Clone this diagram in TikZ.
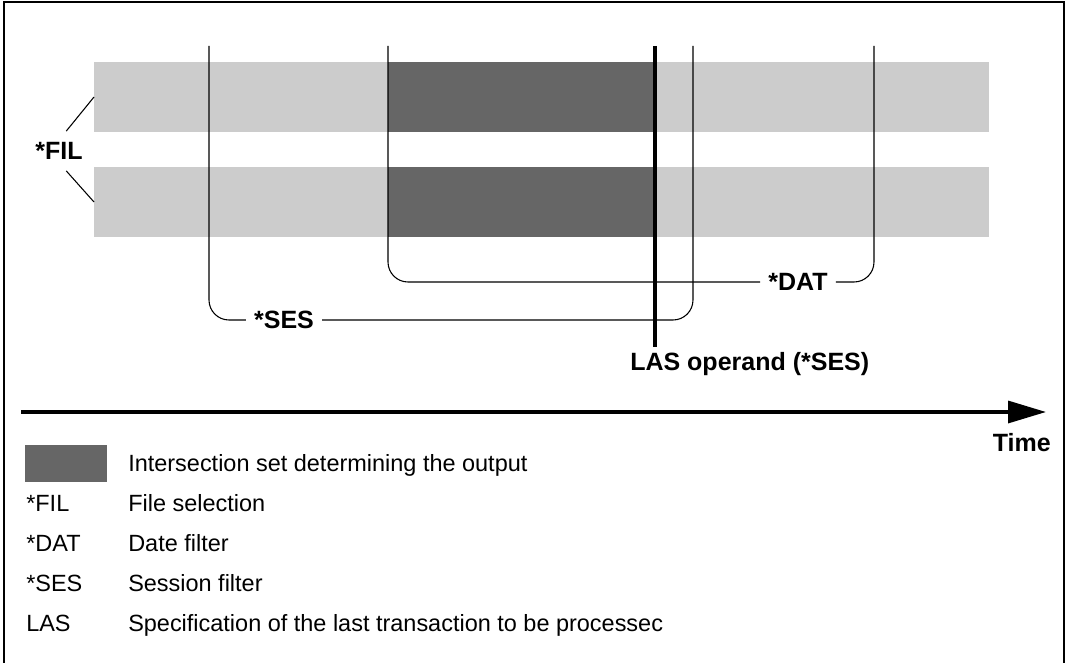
\documentclass[tikz,border=0pt]{standalone}
\usepackage{fontspec}
\setmainfont{Liberation Sans}
\usetikzlibrary{positioning, arrows.meta}
\definecolor{barlight}{HTML}{CCCCCC}
\definecolor{bardark}{HTML}{666666}

\begin{document}
\begin{tikzpicture}[x=0.75pt,y=-0.75pt]
        \tikzstyle{frame}=[draw, line width=1.2pt]
        \tikzstyle{barlt}=[rectangle, fill=barlight, inner sep=0pt, outer sep=0pt, minimum width=671.25pt, minimum height=52.5pt]
        \tikzstyle{bardk}=[rectangle, fill=bardark, inner sep=0pt, outer sep=0pt, minimum width=200.25pt, minimum height=52.5pt]
        \tikzstyle{keybox}=[rectangle, fill=bardark, inner sep=0pt, minimum width=61.5pt, minimum height=27.75pt]
        \tikzstyle{fline}=[draw, line width=0.8pt, rounded corners=15pt]
        \tikzstyle{blabel}=[font=\bfseries\fontsize{18.75}{22}\selectfont, text height=13.4pt, text depth=0pt, inner xsep=6pt]
        \tikzstyle{ltext}=[font=\fontsize{17.6}{21}\selectfont, anchor=base west, inner sep=0pt]
        \useasboundingbox (0,0) rectangle (1067,663);
        \draw[frame] (4,663) |- (1064,2) -- (1064,663);
        % file bars and the intersection
        \node[barlt]  (fil1) at (541.5,97)  {};
        \node[barlt]  (fil2) at (541.5,202) {};
        \node[bardk]  (out1) at (521.5,97)  {};
        \node[bardk]  (out2) at (521.5,202) {};
        \coordinate (ses0) at (209,46);
        \coordinate (ses1) at (693,46);
        \coordinate (dat0) at (388,46);
        \coordinate (dat1) at (874,46);
        \coordinate (las0) at (655,46);
        \node[blabel, inner ysep=8pt] (FIL) at (59,151) {*FIL};
        \node[blabel] (SES) at (284,320) {*SES};
        \node[blabel] (DAT) at (798,282) {*DAT};
        \node[blabel, anchor=base west, inner xsep=0pt, inner ysep=3.75pt] (LAS) at (630,370) {LAS operand (*SES)};
        \draw[line width=0.8pt] (FIL.70) -- (fil1.west);
        \draw[line width=0.8pt] (FIL.-70) -- (fil2.west);
        \draw[fline] (ses0) |- (SES);
        \draw[fline] (SES) -| (ses1);
        \draw[fline] (dat0) |- (DAT);
        \draw[fline] (DAT) -| (dat1);
        \draw[line width=2.5pt] (las0) -- (las0 |- LAS.north);
        % time axis
        \coordinate (t0) at (21,412);
        \coordinate (t1) at (1046,412);
        \draw[line width=2.5pt, -{Triangle[length=28.5pt,width=16.5pt]}] (t0) -- (t1);
        \node[blabel, anchor=base east, inner sep=0pt] (time) at (1051,451) {Time};
        % legend
        \node[keybox] (key)  at (66,463.5) {};
        \node[ltext]  (kint) at (128,471.5) {Intersection set determining the output};
        \node[ltext]  (kfil) at (26,511.5)  {*FIL};
        \node[ltext]  (dfil) at (128,511.5) {File selection};
        \node[ltext]  (kdat) at (26,551.5)  {*DAT};
        \node[ltext]  (ddat) at (128,551.5) {Date filter};
        \node[ltext]  (kses) at (26,591.5)  {*SES};
        \node[ltext]  (dses) at (128,591.5) {Session filter};
        \node[ltext]  (klas) at (26,631.5)  {LAS};
        \node[ltext]  (dlas) at (128,631.5) {Specification of the last transaction to be processec};
    \end{tikzpicture}
\end{document}
